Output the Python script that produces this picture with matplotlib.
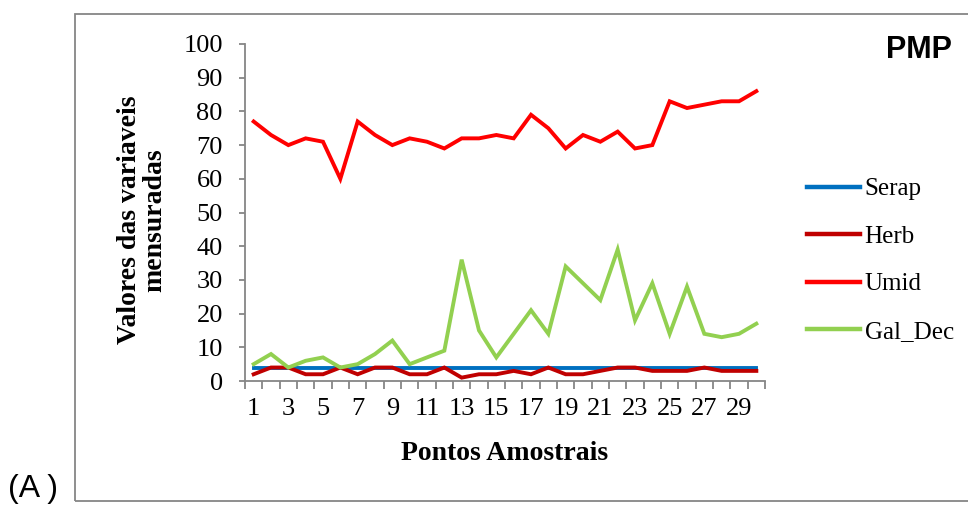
import numpy as np
import matplotlib
matplotlib.use("Agg")
import matplotlib.pyplot as plt
from matplotlib.patches import Rectangle

# =========================
# dados
# =========================
pontos = list(range(1, 31))
serap = [4] * 30
herb = [2, 4, 4, 2, 2, 4, 2, 4, 4, 2, 2, 4, 1, 2, 2, 3, 2, 4, 2, 2,
        3, 4, 4, 3, 3, 3, 4, 3, 3, 3]
umid = [77, 73, 70, 72, 71, 60, 77, 73, 70, 72, 71, 69, 72, 72, 73, 72, 79, 75, 69, 73,
        71, 74, 69, 70, 83, 81, 82, 83, 83, 86]
gal_dec = [5, 8, 4, 6, 7, 4, 5, 8, 12, 5, 7, 9, 36, 15, 7, 14, 21, 14, 34, 29,
           24, 39, 18, 29, 14, 28, 14, 13, 14, 17]

series = [("Serap", serap, "#0070C0"),
          ("Herb", herb, "#C00000"),
          ("Umid", umid, "#FF0000"),
          ("Gal_Dec", gal_dec, "#92D050")]

SERIF = "Liberation Serif"
GRAY = "#868686"

fig = plt.figure(figsize=(9.68, 5.08), dpi=100)

# moldura externa
fig.patches.append(Rectangle((75 / 968, 7 / 508), 1.0, 487 / 508,
                             transform=fig.transFigure, fill=False,
                             edgecolor=GRAY, linewidth=1.3))

ax = fig.add_axes([245 / 968, 1 - 381 / 508, 520 / 968, 337 / 508])

for nome, vals, cor in series:
    ax.plot(pontos, vals, color=cor, linewidth=2.8, label=nome,
            solid_joinstyle="miter", zorder=3 if nome != "Serap" else 2)

ax.set_xlim(0.5, 30.5)
ax.set_ylim(0, 100)
ax.set_yticks(np.arange(0, 101, 10))
ax.set_xticks(pontos[::2])
ax.set_xticks(np.arange(0.5, 31, 1), minor=True)

for s in ["top", "right"]:
    ax.spines[s].set_visible(False)
for s in ["left", "bottom"]:
    ax.spines[s].set_color(GRAY)
    ax.spines[s].set_linewidth(1.3)

ax.tick_params(axis="y", direction="out", length=4, width=1.3, color=GRAY,
               pad=12, labelsize=19)
ax.tick_params(axis="x", which="major", length=0, pad=12, labelsize=19)
ax.tick_params(axis="x", which="minor", direction="out", length=6, width=1.3,
               color=GRAY)
for lab in ax.get_xticklabels() + ax.get_yticklabels():
    lab.set_fontfamily(SERIF)

fig.text(142 / 968, 1 - 220 / 508, "Valores das variaveis\nmensuradas",
         rotation=90, ha="center", va="center", family=SERIF,
         fontweight="bold", fontsize=20, linespacing=1.05)
fig.text(505 / 968, 1 - 453 / 508, "Pontos Amostrais", ha="center",
         va="center", family=SERIF, fontweight="bold", fontsize=20)

fig.text(952 / 968, 1 - 50 / 508, "PMP", ha="right", va="center",
         family="Liberation Sans", fontweight="bold", fontsize=22)
fig.text(8 / 968, 1 - 489 / 508, "(A )", ha="left", va="center",
         family="Liberation Sans", fontsize=23)

leg = fig.legend(loc="upper left", bbox_to_anchor=(807 / 968, 1 - 178 / 508),
                 frameon=False, borderpad=0, borderaxespad=0,
                 handlelength=2.1, handletextpad=0.2,
                 labelspacing=1.0, prop={"family": SERIF, "size": 18})
for h in leg.get_lines():
    h.set_linewidth(3.2)

fig.savefig("out.png", dpi=100)
